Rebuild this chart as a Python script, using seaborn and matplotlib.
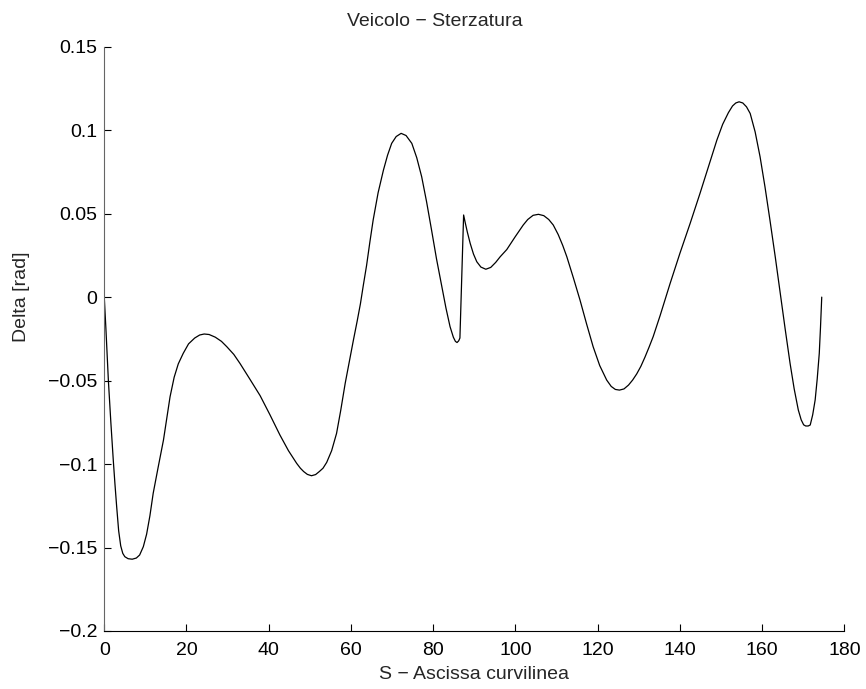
import numpy as np
import pandas as pd
import matplotlib
matplotlib.use("Agg")
import matplotlib.pyplot as plt
import seaborn as sns

# data (S, Delta)
s = [0, 0.4, 1.0, 1.6, 2.2, 2.6, 3.0, 3.5, 4.0, 4.5, 5.0, 5.8, 6.8, 7.8, 8.6, 9.5,
     10.3, 11.1, 11.9, 13.1, 14.4, 15.2, 16.0, 17.0, 18.0, 19.2, 20.5, 22.0, 23.2,
     24.3, 25.5, 27.0, 28.5, 29.8, 31.5, 33.0, 35.3, 37.9, 40.3, 42.7, 44.8, 46.8,
     47.7, 48.5, 49.4, 50.4, 51.4, 52.3, 53.2, 54.1, 55.3, 56.5, 57.5, 58.6, 59.6,
     60.6, 61.5, 62.3, 63.0, 63.8, 64.6, 65.4, 66.6, 67.9, 68.9, 69.9, 71.0, 72.2,
     73.4, 74.8, 76.0, 77.2, 78.4, 79.6, 80.8, 82.1, 83.1, 84.1, 84.9, 85.4, 85.8,
     86.2, 86.5, 87.4, 87.8, 88.3, 89.0, 89.8, 90.6, 91.6, 92.8, 94.0, 95.2, 96.3,
     97.9, 99.9, 101.9, 103.0, 104.3, 105.6, 106.9, 108.1, 109.2, 110.4, 111.5,
     112.5, 114.1, 115.7, 117.3, 118.9, 120.5, 122.2, 123.3, 124.3, 125.3, 126.4,
     127.5, 128.5, 129.5, 130.5, 131.5, 132.5, 133.5, 135.2, 137.6, 140.0, 142.5,
     144.9, 147.0, 149.0, 150.4, 151.8, 152.8, 153.6, 154.4, 155.3, 156.2, 157.1,
     158.3, 159.5, 160.7, 161.9, 163.2, 164.4, 165.6, 166.8, 167.8, 168.8, 169.5,
     170.1, 170.6, 171.2, 171.7, 172.3, 172.9, 173.4, 173.9, 174.2, 174.5]
delta = [0, -0.019, -0.050, -0.075, -0.098, -0.112, -0.125, -0.140, -0.149, -0.1535,
         -0.1555, -0.1567, -0.157, -0.1563, -0.1545, -0.1495,
         -0.142, -0.131, -0.1175, -0.102, -0.0856, -0.0725, -0.0597, -0.048, -0.040,
         -0.0337, -0.028, -0.0245, -0.0227,
         -0.0221, -0.0224, -0.0240, -0.0265, -0.0297, -0.0343, -0.0397, -0.0487,
         -0.0590, -0.0705, -0.0825, -0.0920, -0.0996,
         -0.1025, -0.1045, -0.1062, -0.107, -0.1063, -0.1045, -0.1025, -0.0990,
         -0.092, -0.0816, -0.068, -0.0516, -0.0385,
         -0.0257, -0.0145, -0.004, 0.007, 0.019, 0.033, 0.0462, 0.0625, 0.0761,
         0.085, 0.0921, 0.0962, 0.0981,
         0.0968, 0.0921, 0.0835, 0.0721, 0.057, 0.0402, 0.0230, 0.0062, -0.0065,
         -0.0177, -0.0240, -0.0265, -0.0272,
         -0.0262, -0.0245, 0.0492, 0.0445, 0.0390, 0.0322, 0.0258, 0.0212, 0.0180,
         0.0167, 0.0178, 0.0208, 0.0242,
         0.0285, 0.0360, 0.0432, 0.0465, 0.0490, 0.0496, 0.0488, 0.0465, 0.0432,
         0.0375, 0.031,
         0.0242, 0.0115, -0.0017, -0.0160, -0.0297, -0.0410, -0.0497, -0.0535,
         -0.0553, -0.0557, -0.0550,
         -0.0527, -0.0497, -0.0460, -0.0415, -0.036, -0.030, -0.0237, -0.0110,
         0.0080, 0.0262, 0.0442,
         0.0622, 0.0785, 0.0941, 0.1035, 0.1105, 0.1145, 0.1163, 0.117, 0.1163,
         0.1140, 0.1100,
         0.0990, 0.0841, 0.066, 0.0462, 0.024, 0.0023, -0.019, -0.0397, -0.0550,
         -0.0676, -0.0735,
         -0.0765, -0.0772, -0.0772, -0.0766, -0.0705, -0.0616, -0.0490, -0.0337,
         -0.018, 0.0]

xticks = [0, 20, 40, 60, 80, 100, 120, 140, 160, 180]
yticks = [-0.2, -0.15, -0.1, -0.05, 0, 0.05, 0.1, 0.15]
ytick_labels = ["\u22120.2", "\u22120.15", "\u22120.1", "\u22120.05", "0", "0.05", "0.1", "0.15"]

df = pd.DataFrame({"S": s, "Delta": delta})

sns.set_style("ticks")
plt.rcParams["font.family"] = ["Liberation Sans", "DejaVu Sans"]

fig = plt.figure(figsize=(8.66, 6.89), dpi=100)
ax = fig.add_axes([0.1204, 0.0842, 0.8546, 0.848])

sns.lineplot(data=df, x="S", y="Delta", sort=False, estimator=None,
             color="black", linewidth=0.9, ax=ax)

ax.set_xlim(0, 180)
ax.set_ylim(-0.2, 0.15)
ax.set_xticks(xticks)
ax.set_xticklabels([str(t) for t in xticks])
ax.set_yticks(yticks)
ax.set_yticklabels(ytick_labels)
ax.tick_params(direction="in", length=5, width=0.8, labelsize=14, colors="black")
ax.tick_params(axis="y", pad=5)
ax.tick_params(axis="x", pad=8)

for side in ["top", "right"]:
    ax.spines[side].set_visible(False)
ax.spines["left"].set_color("#666666")
ax.spines["bottom"].set_color("black")
ax.spines["left"].set_linewidth(0.8)
ax.spines["bottom"].set_linewidth(0.8)

ax.set_xlabel("S \u2212 Ascissa curvilinea", fontsize=14, labelpad=5)
ax.set_ylabel("Delta [rad]", fontsize=14)
ax.set_title("Veicolo \u2212 Sterzatura", fontsize=14, x=0.447, pad=15)
ax.yaxis.set_label_coords(-0.1, 0.572)

fig.savefig("out.png", dpi=100)
